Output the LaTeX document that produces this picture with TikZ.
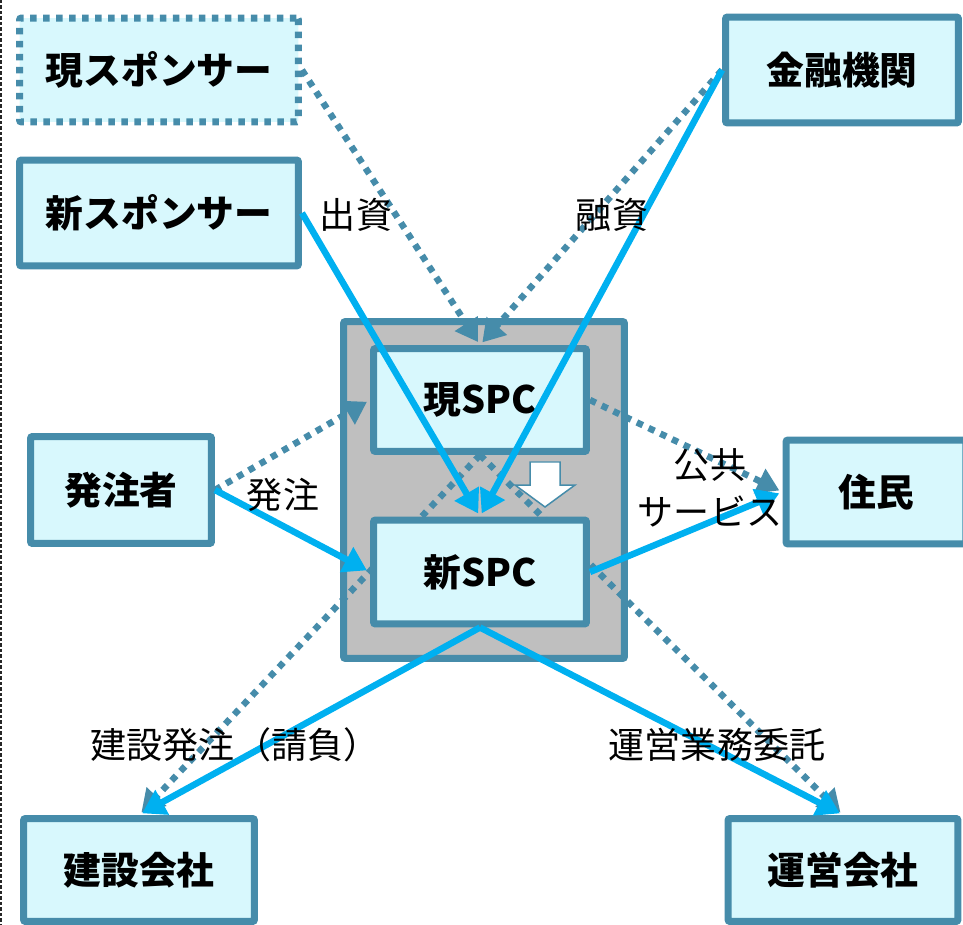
\documentclass[tikz,border=0pt]{standalone}
\usepackage{fontspec}
\setmainfont{Noto Sans CJK JP}
\usetikzlibrary{arrows.meta}

\definecolor{boxline}{RGB}{70,140,170}
\definecolor{boxfill}{RGB}{216,248,253}
\definecolor{flowcyan}{RGB}{0,176,240}
\definecolor{spcgray}{RGB}{191,191,191}

\pgfdeclarelayer{back}
\pgfdeclarelayer{middle}
\pgfsetlayers{back,middle,main}

\begin{document}
\begin{tikzpicture}[x=0.02cm, y=-0.02cm,
    party/.style={draw=boxline, fill=boxfill, line width=0.14cm, rounded corners=0.04cm, inner sep=0pt, font=\fontsize{21.5}{25}\selectfont\bfseries},
    money/.style={line width=0.13cm, flowcyan, shorten >=0.07cm, -{Triangle[length=0.46cm, width=0.54cm]}},
    oldflow/.style={line width=0.13cm, boxline, dash pattern=on 0.13cm off 0.13cm, shorten >=0.07cm, -{Triangle[length=0.44cm, width=0.52cm]}},
    tag/.style={font=\fontsize{20.5}{27}\selectfont, inner sep=0pt}]
    \useasboundingbox (0,0) rectangle (963,925);
    \draw[black!85, line width=0.035cm, dash pattern=on 0.07cm off 0.04cm] (1,0) -- (1,925);

    \begin{pgfonlayer}{back}
    \node[party, fill=spcgray, minimum width=5.62cm, minimum height=6.74cm] (spcbg) at (484,490) {};
    \end{pgfonlayer}

    \node[party, dash pattern=on 0.13cm off 0.13cm, minimum width=5.58cm, minimum height=2.08cm] (oldsponsor) at (159,70) {現スポンサー};
    \node[party, minimum width=5.58cm, minimum height=2.12cm] (newsponsor) at (159,213) {新スポンサー};
    \node[party, minimum width=4.66cm, minimum height=2.12cm] (bank) at (842,70) {金融機関};
    \node[party, minimum width=3.62cm, minimum height=2.14cm] (client) at (121,490) {発注者};
    \node[party, minimum width=3.6cm, minimum height=2.08cm] (residents) at (876,492) {住民};
    \node[party, minimum width=4.62cm, minimum height=2.06cm] (builder) at (139,870) {建設会社};
    \node[party, minimum width=4.6cm, minimum height=2.06cm] (operator) at (843,870) {運営会社};
    \node[party, minimum width=4.26cm, minimum height=2.06cm] (oldspc) at (480,400) {現SPC};
    \node[party, minimum width=4.26cm, minimum height=2.08cm] (newspc) at (480,572) {新SPC};

    % old contracts, behind the SPC boxes
    \begin{pgfonlayer}{middle}
    \draw[oldflow] (oldsponsor.east) -- (oldspc.north);
    \draw[oldflow] (bank.west) -- (oldspc.north);
    \draw[oldflow] (client.east) -- (oldspc.west);
    \draw[oldflow] (oldspc.east) -- (residents.west);
    \draw[oldflow] (oldspc.south) -- (builder.north);
    \draw[oldflow] (oldspc.south) -- (operator.north);
    \end{pgfonlayer}

    \draw[boxline, fill=white, line width=0.03cm] (530,462) -- (560,462) -- (560,485) -- (575,485) -- (545,507) -- (515,485) -- (530,485) -- cycle;

    % new contracts
    \draw[money] (newsponsor.east) -- (newspc.north);
    \draw[money] (bank.west) -- (newspc.north);
    \draw[money] (client.east) -- (newspc.west);
    \draw[money] (newspc.east) -- (residents.west);
    \draw[money] (newspc.south) -- (builder.north);
    \draw[money] (newspc.south) -- (operator.north);

    \node[tag] (capital) at (356,215) {出資};
    \node[tag] (loan) at (612,215) {融資};
    \node[tag] (order) at (283,495) {発注};
    \node[tag, align=center] (service) at (710,488) {公共\\サービス};
    \node[tag] (contract) at (235,745) {建設発注（請負）};
    \node[tag] (entrust) at (717,745) {運営業務委託};
\end{tikzpicture}
\end{document}
